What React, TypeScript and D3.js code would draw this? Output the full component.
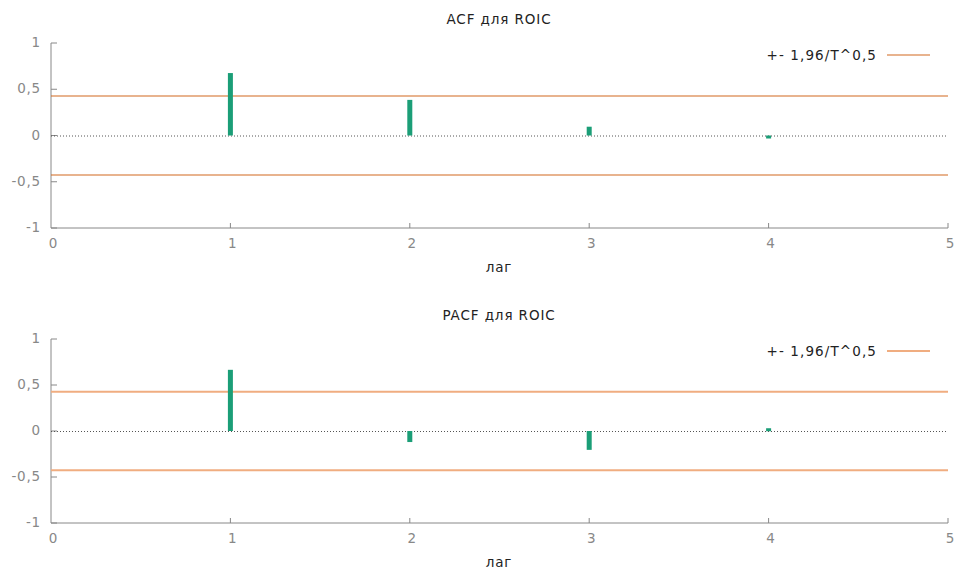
import React from "react";
import * as d3 from "d3";

// значения ACF / PACF по лагам
const lags = [1, 2, 3, 4];
const acfValues = [0.675, 0.385, 0.095, -0.03];
const pacfValues = [0.665, -0.12, -0.205, 0.03];
const bound = 0.427; // 1.96/sqrt(T)
const yTicks = [-1, -0.5, 0, 0.5, 1];
const xTicks = [0, 1, 2, 3, 4, 5];
const legendText = "+- 1,96/T^0,5";

const W = 954;
const H = 572;
const font = "'DejaVu Sans', Verdana, sans-serif";

const fmt = (v: number) => String(v).replace(".", ",");

type PanelProps = {
  top: number;
  bottom: number;
  title: string;
  values: number[];
  bandColor: string;
  bandWidth: number;
  offsetY: number;
};

const Panel = ({ top, bottom, title, values, bandColor, bandWidth, offsetY }: PanelProps) => {
  const x = d3.scaleLinear().domain([0, 5]).range([51, 948]);
  const y = d3.scaleLinear().domain([-1, 1]).range([bottom, top]);
  const axisColor = "#888";
  return (
    <g>
      <text x={499} y={offsetY + 24} textAnchor="middle" fontSize={13.5} letterSpacing={0.9} fill="#222">
        {title}
      </text>
      {/* оси */}
      <line x1={x(0)} x2={x(0)} y1={y(1)} y2={y(-1)} stroke={axisColor} />
      <line x1={x(0)} x2={x(5)} y1={y(-1)} y2={y(-1)} stroke={axisColor} />
      {yTicks.map((t) => (
        <g key={t}>
          <line x1={x(0)} x2={x(0) + 6} y1={y(t)} y2={y(t)} stroke={axisColor} />
          <text x={41} y={y(t)} dy="0.3em" textAnchor="end" fontSize={13.5} letterSpacing={0.8} fill="#888">
            {fmt(t)}
          </text>
        </g>
      ))}
      {xTicks.map((t) => (
        <g key={t}>
          {t > 0 && (
            <line x1={x(t)} x2={x(t)} y1={y(-1)} y2={y(-1) - 5} stroke={axisColor} />
          )}
          <text x={x(t) + 2} y={y(-1) + 20} textAnchor="middle" fontSize={13.5} fill="#888">
            {t}
          </text>
        </g>
      ))}
      <text x={499} y={y(-1) + 44} textAnchor="middle" fontSize={13.5} letterSpacing={0.9} fill="#222">
        лаг
      </text>
      {/* нулевая линия */}
      <line
        x1={x(0)}
        x2={x(5)}
        y1={y(0) + 0.5}
        y2={y(0) + 0.5}
        stroke="#555"
        strokeDasharray="1,2"
      />
      {/* границы */}
      {[bound, -bound].map((b) => (
        <line key={b} x1={x(0)} x2={x(5)} y1={y(b)} y2={y(b)} stroke={bandColor} strokeWidth={bandWidth} />
      ))}
      {/* столбики */}
      {values.map((v, i) => (
        <rect
          key={i}
          x={x(lags[i]) - 2.5}
          width={5}
          y={Math.min(y(v), y(0))}
          height={Math.max(Math.abs(y(v) - y(0)), 3)}
          fill="#1b9e77"
        />
      ))}
      {/* легенда */}
      <text x={877} y={offsetY + 60} textAnchor="end" fontSize={13.5} letterSpacing={1.1} fill="#222">
        {legendText}
      </text>
      <line x1={887} x2={930} y1={offsetY + 55} y2={offsetY + 55} stroke={bandColor} strokeWidth={bandWidth} />
    </g>
  );
};

export default function App() {
  return (
    <svg width={W} height={H} style={{ position: "absolute", left: 0, top: 0, fontFamily: font }}>
      <rect width={W} height={H} fill="#fff" />
      <Panel top={43} bottom={228} title="ACF для ROIC" values={acfValues} bandColor="#d2691e" bandWidth={1.2} offsetY={0} />
      <Panel top={339} bottom={523} title="PACF для ROIC" values={pacfValues} bandColor="#f0ad80" bandWidth={2} offsetY={296} />
    </svg>
  );
}
